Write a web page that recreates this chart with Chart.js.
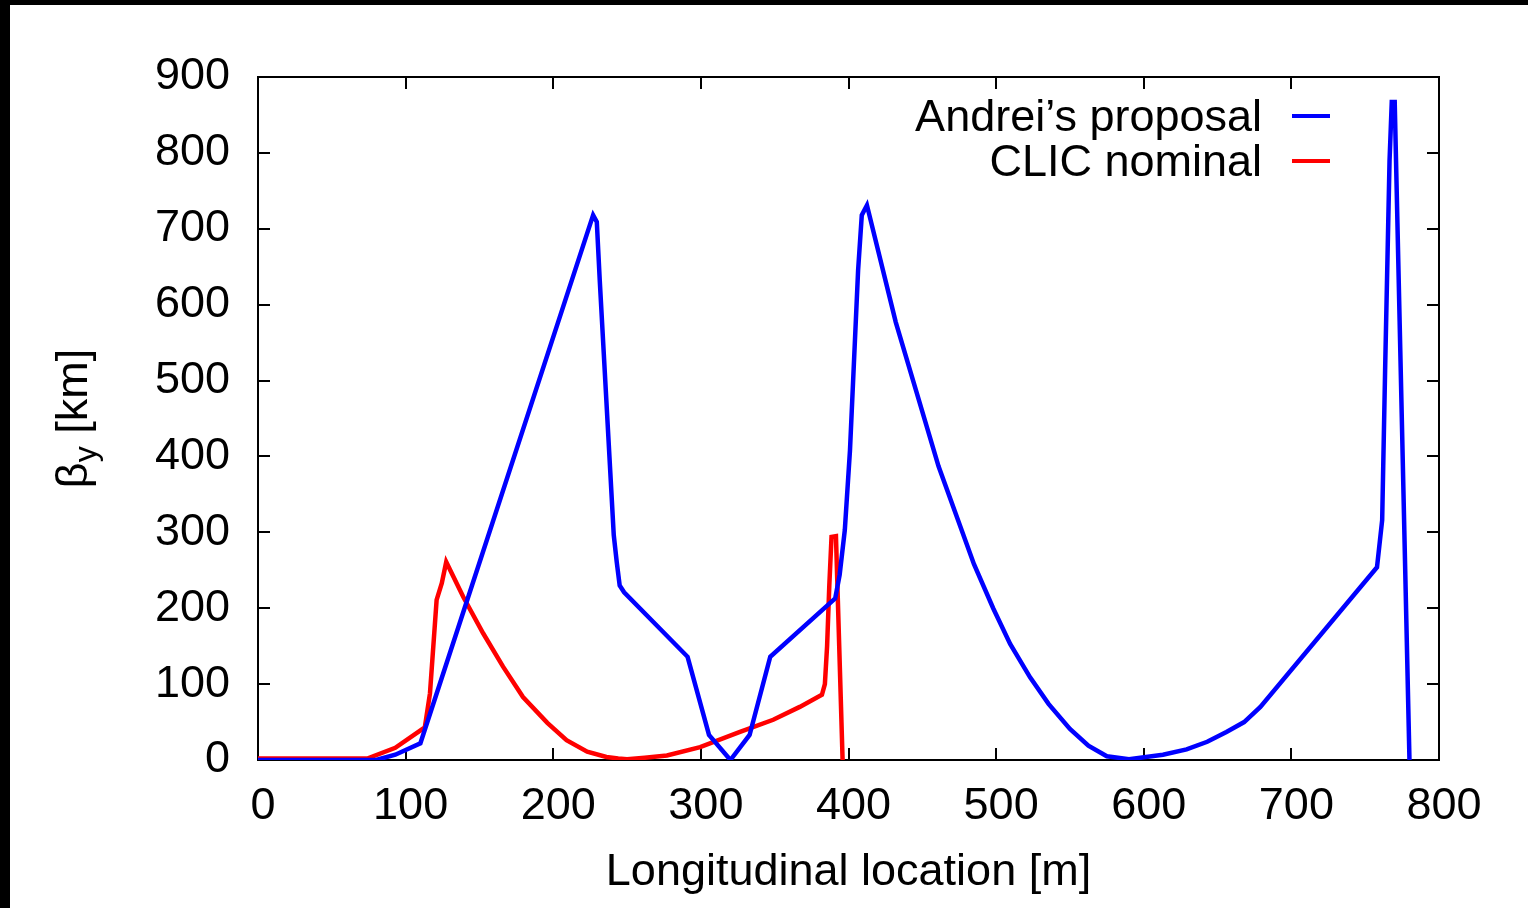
<!DOCTYPE html>
<html>
<head>
<meta charset="utf-8">
<script src="https://cdn.jsdelivr.net/npm/chart.js@4.4.0/dist/chart.umd.min.js"></script>
<style>
  html, body { margin: 0; background: #000; }
  #wrap { position: absolute; left: 10px; top: 5px; width: 1518px; height: 903px; background: #fff; }
</style>
</head>
<body>
<div id="wrap"><canvas id="beta-chart" width="1518" height="903"></canvas></div>
<script>
// longitudinal location [m] and beta_y [km]
const andreiX = [0, 80, 93, 110, 227, 229.5, 231.5, 241, 243, 245, 248, 291, 305.5, 320, 333, 347,
  391, 394, 397.5, 401, 406.5, 409, 412.5, 432, 461, 485, 498, 509.5, 523, 535.5, 550, 562.5,
  575, 590, 613, 629, 643, 656, 668, 679, 758, 761.5, 763.5, 766.5, 768, 770, 780];
const andreiY = [0, 0, 7, 22, 718, 709, 632, 296, 261, 230, 221, 136, 33, 0, 33, 136,
  213, 244, 303, 408, 645, 718, 731, 577, 387, 258, 200, 153, 109, 74, 41, 19,
  5, 1, 7, 14, 24, 37, 50, 70, 254, 316, 514, 790, 867, 867, 0];

const clicX = [0, 74, 93, 113, 116.5, 121, 124.5, 127.5, 139, 152.5, 166, 179.5, 196, 209, 223,
  236, 244, 250, 262, 277, 299.5, 326.5, 349, 367, 382, 384, 385.5, 387, 388.5, 391.5, 396];
const clicY = [2, 2, 16, 43, 88, 211, 233, 261, 215, 167, 123, 83, 49, 26, 11,
  4, 2, 1, 3, 6, 17, 37, 53, 70, 86, 100, 150, 230, 294, 295, 0];

const seriesLabels = ['Andrei\u2019s proposal', 'CLIC nominal'];
const seriesColors = ['#0000ff', '#ff0000'];

const xTitle = 'Longitudinal location [m]';

const toPoints = (xs, ys) => xs.map((x, i) => ({ x: x, y: ys[i] }));

const FONT = '"Liberation Sans", Arial, sans-serif';
Chart.defaults.font.family = FONT;
Chart.defaults.font.size = 45;
Chart.defaults.color = '#000';

// gnuplot style frame with inward ticks on all four sides
const frameTicks = {
  id: 'frameTicks',
  beforeDatasetsDraw(chart) {
    const { ctx, chartArea: a, scales } = chart;
    const len = 12;
    ctx.save();
    ctx.strokeStyle = '#000';
    ctx.lineWidth = 2;
    ctx.strokeRect(a.left, a.top, a.right - a.left, a.bottom - a.top);
    ctx.beginPath();
    scales.x.ticks.forEach(t => {
      const px = Math.round(scales.x.getPixelForValue(t.value));
      ctx.moveTo(px, a.bottom); ctx.lineTo(px, a.bottom - len);
      ctx.moveTo(px, a.top); ctx.lineTo(px, a.top + len);
    });
    scales.y.ticks.forEach(t => {
      const py = Math.round(scales.y.getPixelForValue(t.value));
      ctx.moveTo(a.left, py); ctx.lineTo(a.left + len, py);
      ctx.moveTo(a.right, py); ctx.lineTo(a.right - len, py);
    });
    ctx.stroke();
    ctx.restore();
  }
};

// key in the top right corner: text right aligned, line sample after it
const keyBox = {
  id: 'keyBox',
  afterDraw(chart) {
    const { ctx } = chart;
    ctx.save();
    ctx.font = '45px ' + FONT;
    ctx.textAlign = 'right';
    ctx.textBaseline = 'alphabetic';
    chart.data.datasets.forEach((ds, i) => {
      const base = 126 + i * 45;
      ctx.fillStyle = '#000';
      ctx.fillText(ds.label, 1252, base);
      ctx.strokeStyle = ds.borderColor;
      ctx.lineWidth = 4;
      ctx.beginPath();
      ctx.moveTo(1282, base - 15);
      ctx.lineTo(1320, base - 15);
      ctx.stroke();
    });
    ctx.restore();
  }
};

// y axis title with subscript
const yTitle = {
  id: 'yTitle',
  afterDraw(chart) {
    const { ctx, chartArea: a } = chart;
    ctx.save();
    ctx.translate(62, (a.top + a.bottom) / 2);
    ctx.rotate(-Math.PI / 2);
    ctx.fillStyle = '#000';
    ctx.textBaseline = 'alphabetic';
    const big = '45px ' + FONT;
    const small = '32px ' + FONT;
    ctx.font = big;
    const wBeta = ctx.measureText('\u03b2').width;
    const wRest = ctx.measureText(' [km]').width;
    ctx.font = small;
    const wSub = ctx.measureText('y').width;
    let x = -(wBeta + wSub + wRest) / 2;
    const base = 15;
    ctx.font = big;
    ctx.fillText('\u03b2', x, base);
    x += wBeta;
    ctx.font = small;
    ctx.fillText('y', x, base + 9);
    x += wSub;
    ctx.font = big;
    ctx.fillText(' [km]', x, base);
    ctx.restore();
  }
};

new Chart(document.getElementById('beta-chart'), {
  type: 'line',
  data: {
    datasets: [
      {
        label: seriesLabels[0],
        data: toPoints(andreiX, andreiY),
        borderColor: seriesColors[0],
        borderWidth: 4.5,
        pointRadius: 0,
        tension: 0,
        fill: false,
      },
      {
        label: seriesLabels[1],
        data: toPoints(clicX, clicY),
        borderColor: seriesColors[1],
        borderWidth: 4.5,
        pointRadius: 0,
        tension: 0,
        fill: false,
      },
    ],
  },
  options: {
    responsive: false,
    animation: false,
    devicePixelRatio: 1,
    layout: { padding: { top: 72, right: 89, left: 0, bottom: 0 } },
    plugins: {
      legend: { display: false },
      tooltip: { enabled: false },
    },
    scales: {
      x: {
        type: 'linear',
        min: 0,
        max: 800,
        grid: { display: false, drawTicks: false },
        border: { display: false },
        ticks: { stepSize: 100, padding: 20, labelOffset: 5, maxRotation: 0 },
        title: { display: true, text: xTitle, padding: { top: 0, bottom: 8 } },
        afterFit: s => { s.height = 148; },
      },
      y: {
        min: 0,
        max: 900,
        grid: { display: false, drawTicks: false },
        border: { display: false },
        ticks: { stepSize: 100, padding: 28 },
        afterFit: s => { s.width = 248; },
      },
    },
  },
  plugins: [frameTicks, keyBox, yTitle],
});
</script>
</body>
</html>
